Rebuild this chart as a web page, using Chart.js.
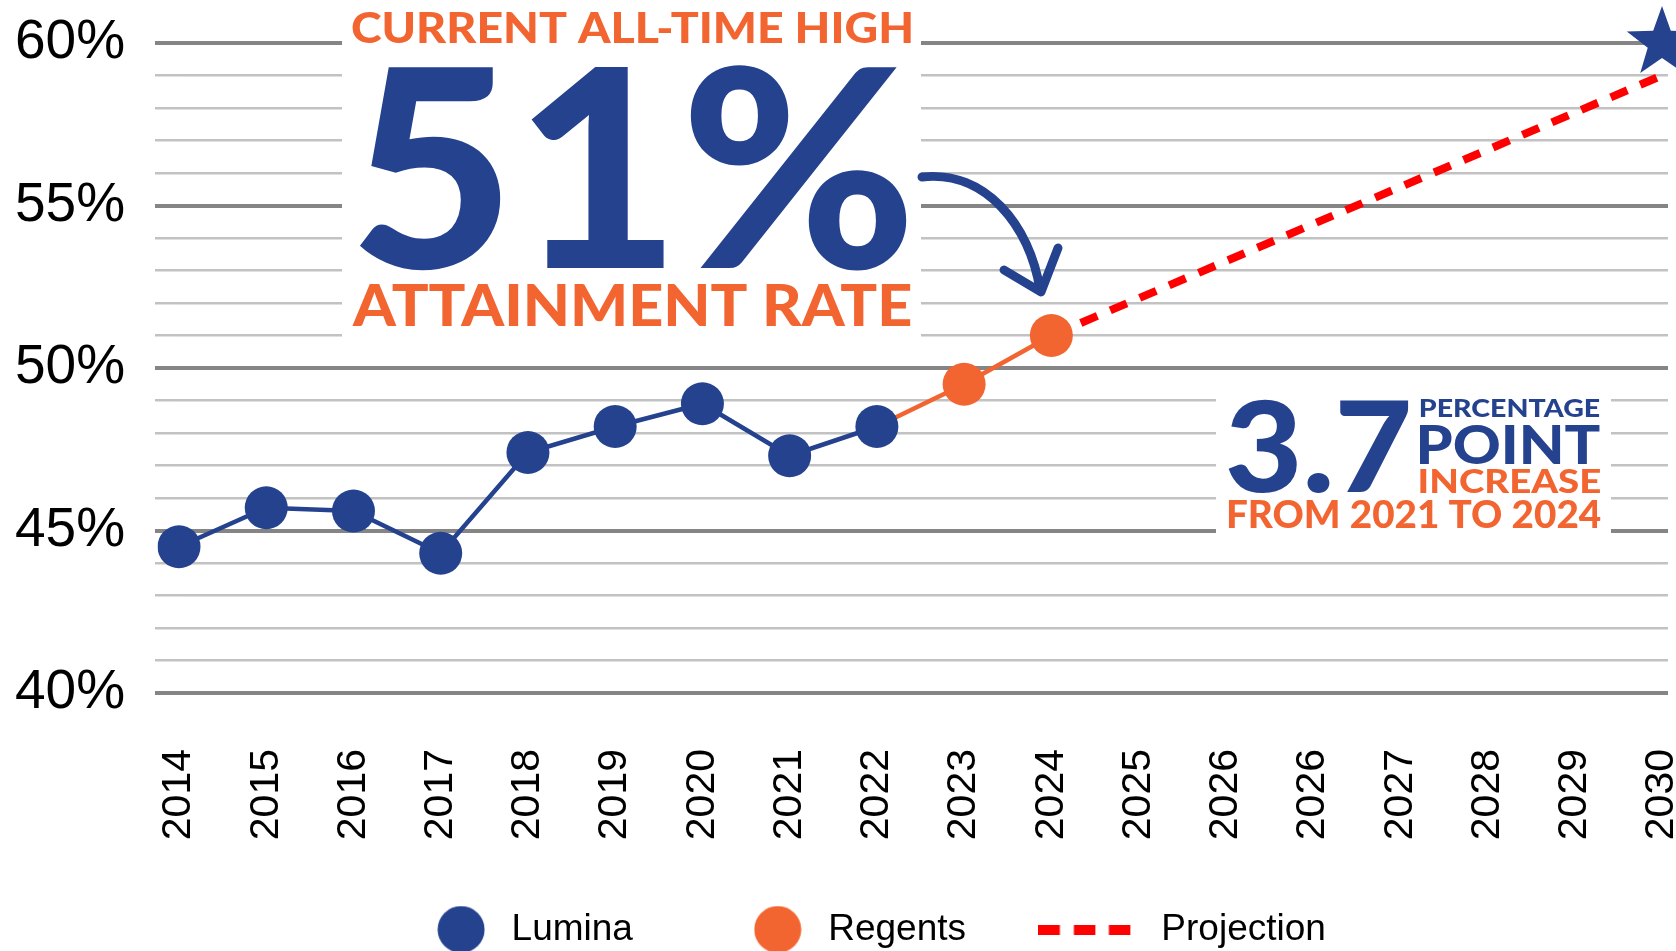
<!DOCTYPE html>
<html>
<head>
<meta charset="utf-8">
<script src="https://cdn.jsdelivr.net/npm/chart.js@4.4.1/dist/chart.umd.min.js"></script>
<style>
  html, body { margin: 0; padding: 0; background: #fff; }
  canvas { display: block; }
</style>
</head>
<body>
<canvas id="attainmentChart" width="1676" height="951"></canvas>
<script>
const years = ["2014", "2015", "2016", "2017", "2018", "2019", "2020", "2021", "2022",
  "2023", "2024", "2025", "2026", "2026", "2027", "2028", "2029", "2030"];
const luminaRates = [44.5, 45.7, 45.6, 44.3, 47.4, 48.2, 48.9, 47.3, 48.2,
  null, null, null, null, null, null, null, null, null];
const regentsRates = [null, null, null, null, null, null, null, null, 48.2,
  49.5, 51.0, null, null, null, null, null, null, null];
const projectionRates = [null, null, null, null, null, null, null, null, null,
  null, 51.0, null, null, null, null, null, null, 59.0];
const goalRates = [null, null, null, null, null, null, null, null, null,
  null, null, null, null, null, null, null, null, 60.0];
const yLabelValues = [40, 45, 50, 55, 60];
const legendNames = ["Lumina", "Regents", "Projection"];

const BLUE = "#25428f";
const ORANGE = "#f26430";
const RED = "#ff0000";
const HEAVY = '"Lato", "Roboto", "Inter", sans-serif';
const PLAIN = '"Liberation Sans", Arial, sans-serif';

function makeCanvas(w, h, draw) {
  const c = document.createElement("canvas");
  c.width = w; c.height = h;
  draw(c.getContext("2d"));
  return c;
}

const dot = color => makeCanvas(48, 48, g => {
  g.fillStyle = color;
  g.beginPath(); g.arc(24, 24, 23.5, 0, Math.PI * 2); g.fill();
});

const star = makeCanvas(80, 80, g => {
  g.fillStyle = BLUE;
  g.beginPath();
  for (let i = 0; i < 10; i++) {
    const r = i % 2 === 0 ? 37 : 15;
    const a = -Math.PI / 2 + i * Math.PI / 5;
    g.lineTo(40 + r * Math.cos(a), 40 + r * Math.sin(a));
  }
  g.closePath(); g.fill();
});

// three red squares, drawn in the left part so the label sits further right
const dashes = makeCanvas(145, 10, g => {
  g.fillStyle = RED;
  [0, 35.5, 70.5].forEach(x => g.fillRect(x, 0, 21.5, 10));
});
const blank = makeCanvas(1, 1, () => {});

function fitText(ctx, text, x1, x2, top, base, color) {
  ctx.save();
  ctx.textAlign = "left";
  ctx.textBaseline = "alphabetic";
  ctx.font = `900 100px ${HEAVY}`;
  const m = ctx.measureText(text);
  const size = 100 * (base - top) / m.actualBoundingBoxAscent;
  ctx.font = `900 ${size}px ${HEAVY}`;
  const m2 = ctx.measureText(text);
  const w = m2.actualBoundingBoxLeft + m2.actualBoundingBoxRight;
  ctx.translate(x1, base);
  ctx.scale((x2 - x1) / w, 1);
  ctx.fillStyle = color;
  ctx.fillText(text, m2.actualBoundingBoxLeft, 0);
  ctx.restore();
}

const callouts = {
  id: "callouts",
  beforeDatasetsDraw(chart) {
    const ctx = chart.ctx;
    ctx.save();
    ctx.fillStyle = "#fff";
    ctx.fillRect(342, 0, 579, 352);
    ctx.fillRect(1216, 382, 395, 158);

    fitText(ctx, "CURRENT ALL-TIME HIGH", 352, 911, 12, 43, ORANGE);
    fitText(ctx, "51%", 358, 908, 66, 268, BLUE);
    fitText(ctx, "ATTAINMENT RATE", 352, 911, 285, 326, ORANGE);

    fitText(ctx, "3.7", 1228, 1409, 400, 492, BLUE);
    fitText(ctx, "PERCENTAGE", 1420, 1600, 399, 417, BLUE);
    fitText(ctx, "POINT", 1420, 1600, 425, 464, BLUE);
    fitText(ctx, "INCREASE", 1420, 1600, 470, 493, ORANGE);
    fitText(ctx, "FROM 2021 TO 2024", 1228, 1601, 500, 528, ORANGE);

    // curved arrow pointing at the 2024 value
    ctx.strokeStyle = BLUE;
    ctx.lineWidth = 9;
    ctx.lineCap = "round";
    ctx.lineJoin = "round";
    ctx.beginPath();
    ctx.moveTo(922, 177);
    ctx.bezierCurveTo(985, 170, 1030, 225, 1040, 290);
    ctx.stroke();
    ctx.beginPath();
    ctx.moveTo(1004, 270);
    ctx.lineTo(1041, 292);
    ctx.lineTo(1058, 248);
    ctx.stroke();
    ctx.restore();
  }
};

const isMajor = v => v % 5 === 0;
const gridColor = c => isMajor(c.tick.value) ? "#858585" : "#c2c2c2";
const gridWidth = c => isMajor(c.tick.value) ? 4 : 2.5;

new Chart(document.getElementById("attainmentChart"), {
  type: "line",
  data: {
    labels: years,
    datasets: [
      {
        label: "Lumina",
        data: luminaRates,
        borderColor: BLUE,
        backgroundColor: BLUE,
        borderWidth: 4.5,
        pointRadius: 21.5,
        pointBorderWidth: 0,
        tension: 0
      },
      {
        label: "Regents",
        data: regentsRates,
        borderColor: ORANGE,
        backgroundColor: ORANGE,
        borderWidth: 4.5,
        pointRadius: c => c.dataIndex === 8 ? 0 : 21.5,
        pointBorderWidth: 0,
        tension: 0
      },
      {
        label: "Projection",
        data: projectionRates,
        borderColor: RED,
        borderWidth: 8,
        borderDash: [18, 14],
        borderCapStyle: "butt",
        pointRadius: 0,
        spanGaps: true,
        tension: 0
      },
      {
        label: "Goal",
        data: goalRates,
        showLine: false,
        pointStyle: star,
        pointRadius: 20,
        clip: false
      }
    ]
  },
  options: {
    responsive: false,
    animation: false,
    devicePixelRatio: 1,
    events: [],
    layout: { autoPadding: false, padding: { left: 15, right: 8, top: 43, bottom: -7 } },
    scales: {
      x: {
        offset: false,
        grid: { display: false, drawTicks: false },
        border: { display: false },
        ticks: {
          autoSkip: false,
          minRotation: 90,
          maxRotation: 90,
          padding: 56,
          color: "#000",
          font: { family: PLAIN, size: 41 }
        },
        afterFit(s) {
          s.height = 208;
          s.paddingLeft = 0;
          s.paddingRight = 0;
        }
      },
      y: {
        min: 40,
        max: 60,
        border: { display: false },
        grid: { color: gridColor, lineWidth: gridWidth, drawTicks: true, tickLength: 24 },
        ticks: {
          stepSize: 1,
          maxTicksLimit: 25,
          autoSkip: false,
          crossAlign: "far",
          color: "#000",
          font: { family: PLAIN, size: 55 },
          callback: v => yLabelValues.includes(v) ? v + "%" : ""
        },
        afterFit(s) { s.width = 164; }
      },
      yRight: {
        position: "right",
        min: 40,
        max: 60,
        border: { display: false },
        grid: { color: gridColor, lineWidth: gridWidth, drawOnChartArea: false, drawTicks: true, tickLength: 6 },
        ticks: { display: false, stepSize: 1, maxTicksLimit: 25, autoSkip: false },
        afterFit(s) { s.width = 6; }
      }
    },
    plugins: {
      tooltip: { enabled: false },
      legend: {
        position: "bottom",
        labels: {
          usePointStyle: true,
          pointStyleWidth: 64,
          boxHeight: 35,
          padding: 10,
          color: "#000",
          font: { family: PLAIN, size: 37 },
          generateLabels: () => [
            { text: "", pointStyle: blank, fillStyle: "#fff", lineWidth: 0, hidden: false },
            { text: legendNames[0] + " ".repeat(10), pointStyle: dot(BLUE), lineWidth: 0, hidden: false, datasetIndex: 0 },
            { text: legendNames[1] + " ".repeat(10), pointStyle: dot(ORANGE), lineWidth: 0, hidden: false, datasetIndex: 1 },
            { text: legendNames[2] + " ".repeat(2), pointStyle: dashes, lineWidth: 0, hidden: false, datasetIndex: 2 }
          ]
        }
      }
    }
  },
  plugins: [callouts]
});
</script>
</body>
</html>
